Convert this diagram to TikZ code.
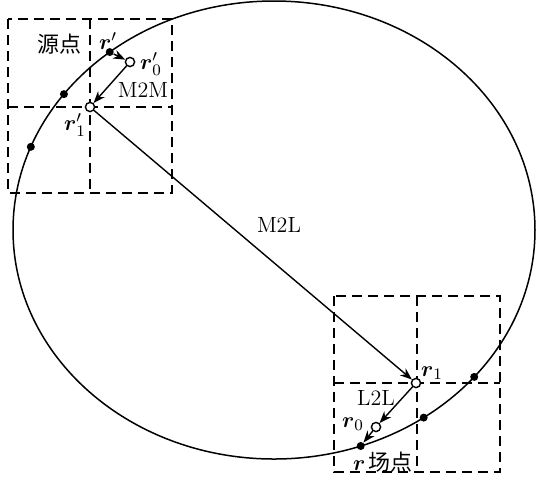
\documentclass[tikz,border=0pt]{standalone}
\usepackage{amsmath}
\usepackage{amssymb}
\usepackage{fontspec}
\newfontfamily\cjk{Noto Sans CJK SC}
\usepackage{tikz}
\usetikzlibrary{positioning,arrows.meta,calc}

\begin{document}
\begin{tikzpicture}[x=0.5pt, y=-0.5pt,
      grid/.style={draw, line width=0.9pt, dash pattern=on 5pt off 3pt},
      full/.style={circle, fill, inner sep=0pt, minimum size=4pt},
      hollow/.style={circle, draw, fill=white, line width=0.7pt, inner sep=0pt, minimum size=4.6pt},
      lbl/.style={font=\fontsize{11}{13}\selectfont, inner sep=1pt},
      arr/.style={-{Stealth[length=6pt, width=4.5pt]}, line width=0.7pt}]
    \useasboundingbox (0,0) rectangle (536,479);
    % ellipse
    \coordinate (cen) at (274,230);
    \draw[line width=0.75pt] (cen) ellipse [x radius=261, y radius=229];
    % source box
    \draw[grid] (8,19) rectangle (172,193);
    \draw[grid] (90,19) -- (90,193);
    \draw[grid] (8,107) -- (172,107);
    % field box
    \draw[grid] (334,296) rectangle (500,472);
    \draw[grid] (417,296) -- (417,472);
    \draw[grid] (334,383) -- (500,383);
    % points on the curve
    \node[full] (src) at ($(cen)+(-129:261 and 229)$) {};
    \node[full] (s2) at ($(cen)+(-143.6:261 and 229)$) {};
    \node[full] (s3) at ($(cen)+(-158.7:261 and 229)$) {};
    \node[full] (fld) at ($(cen)+(70.6:261 and 229)$) {};
    \node[full] (f2) at ($(cen)+(55:261 and 229)$) {};
    \node[full] (f3) at ($(cen)+(39.9:261 and 229)$) {};
    % expansion centres
    \node[hollow] (m0) at (130,62) {};
    \node[hollow] (m1) at (90,107) {};
    \node[hollow] (l1) at (416,383) {};
    \node[hollow] (l0) at (376,427) {};
    \draw[arr] (src) -- (m0);
    \draw[arr] (m0) -- (m1);
    \draw[arr] (m1) -- (l1);
    \draw[arr] (l1) -- (l0);
    \draw[arr] (l0) -- (fld);
    % labels
    \node[lbl] (srctxt) at (60,44) {\cjk 源点};
    \node[lbl] (srcr) at (108,41) {$\boldsymbol{r}'$};
    \node[lbl] (m0txt) at (151,64) {$\boldsymbol{r}'_0$};
    \node[lbl] (m2m) at (143,90) {M2M};
    \node[lbl] (m1txt) at (75,125) {$\boldsymbol{r}'_1$};
    \node[lbl] (m2l) at (279,225) {M2L};
    \node[lbl] (l1txt) at (432,373) {$\boldsymbol{r}_1$};
    \node[lbl] (l2l) at (376,398) {L2L};
    \node[lbl] (l0txt) at (353,424) {$\boldsymbol{r}_0$};
    \node[lbl] (fldtxt) at (383,462) {$\boldsymbol{r}$\,{\cjk 场点}};
  \end{tikzpicture}
\end{document}
